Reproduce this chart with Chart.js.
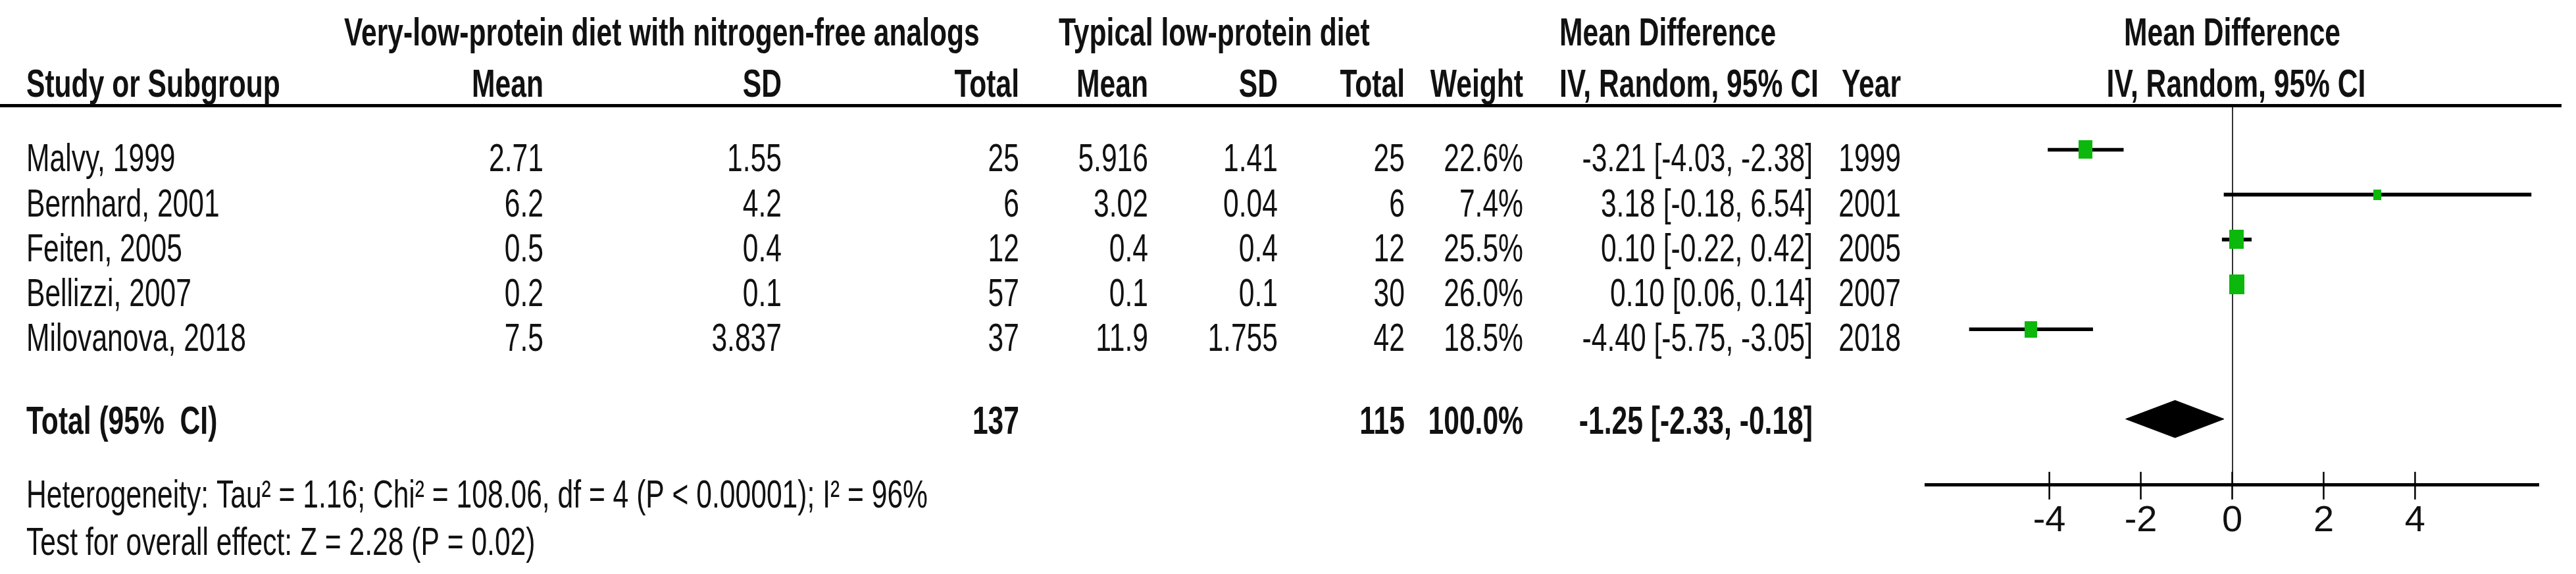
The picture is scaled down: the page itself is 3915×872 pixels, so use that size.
<!DOCTYPE html>
<html>
<head>
<meta charset="utf-8">
<title>Forest plot</title>
<script src="https://cdn.jsdelivr.net/npm/chart.js@4.4.1/dist/chart.umd.min.js"></script>
<style>
  html, body { margin: 0; padding: 0; background: #fff; }
  #forest { display: block; }
</style>
</head>
<body>
<canvas id="forest" width="3915" height="872"></canvas>
<script>
// Study data
const studies = ['Malvy, 1999', 'Bernhard, 2001', 'Feiten, 2005', 'Bellizzi, 2007', 'Milovanova, 2018'];
const expMean = [2.71, 6.2, 0.5, 0.2, 7.5];
const expSD = [1.55, 4.2, 0.4, 0.1, 3.837];
const expTotal = [25, 6, 12, 57, 37];
const ctlMean = [5.916, 3.02, 0.4, 0.1, 11.9];
const ctlSD = [1.41, 0.04, 0.4, 0.1, 1.755];
const ctlTotal = [25, 6, 12, 30, 42];
const weights = [22.6, 7.4, 25.5, 26.0, 18.5];
const meanDiff = [-3.21, 3.18, 0.10, 0.10, -4.40];
const ciLow = [-4.03, -0.18, -0.22, 0.06, -5.75];
const ciHigh = [-2.38, 6.54, 0.42, 0.14, -3.05];
const years = [1999, 2001, 2005, 2007, 2018];

// Pooled result
const totalExp = 137;
const totalCtl = 115;
const totalWeight = 100.0;
const totalMd = -1.25;
const totalLow = -2.33;
const totalHigh = -0.18;

const xTicks = [-4, -2, 0, 2, 4];
const heterogeneity = 'Heterogeneity: Tau\u00b2 = 1.16; Chi\u00b2 = 108.06, df = 4 (P < 0.00001); I\u00b2 = 96%';
const overallEffect = 'Test for overall effect: Z = 2.28 (P = 0.02)';

// Layout (pixels)
const TOTAL_ROW = studies.length + 2;
const DIAMOND_HALF = 0.415;   // in row units
const TEXT_SQUEEZE = 0.71;
const FONT = '"Liberation Sans", Arial, sans-serif';
const cols = {
  label: 40, expMean: 826, expSD: 1188, expTotal: 1549, ctlMean: 1745,
  ctlSD: 1942, ctlTotal: 2135, weight: 2315, ci: 2755, year: 2889
};

const fmtCI = (m, lo, hi) => m.toFixed(2) + ' [' + lo.toFixed(2) + ', ' + hi.toFixed(2) + ']';

// square sizes follow the study weight
const squareStyles = weights.map(w => {
  const h = Math.round(5.8 * Math.sqrt(w));
  const c = document.createElement('canvas');
  c.width = Math.round(h * 0.75);
  c.height = h;
  const g = c.getContext('2d');
  g.fillStyle = '#0cb80c';
  g.fillRect(0, 0, c.width, c.height);
  return c;
});

function drawText(ctx, text, x, y, align, bold) {
  ctx.save();
  ctx.translate(x, y);
  ctx.scale(TEXT_SQUEEZE, 1);
  ctx.font = (bold ? 'bold ' : '') + '60px ' + FONT;
  ctx.fillStyle = '#111';
  ctx.textAlign = align;
  ctx.textBaseline = 'alphabetic';
  ctx.fillText(text, 0, 0);
  ctx.restore();
}

const tablePlugin = {
  id: 'forestTable',
  afterDraw(chart) {
    const ctx = chart.ctx;
    const xs = chart.scales.x;
    const ys = chart.scales.y;
    const zeroX = xs.getPixelForValue(0);

    // header rule
    ctx.fillStyle = '#000';
    ctx.fillRect(0, 158, 3893, 5);

    // header line 1
    drawText(ctx, 'Very-low-protein diet with nitrogen-free analogs', 523, 69, 'left', true);
    drawText(ctx, 'Typical low-protein diet', 1609, 69, 'left', true);
    drawText(ctx, 'Mean Difference', 2370, 69, 'left', true);
    drawText(ctx, 'Mean Difference', zeroX, 69, 'center', true);

    // header line 2
    drawText(ctx, 'Study or Subgroup', cols.label, 147, 'left', true);
    drawText(ctx, 'Mean', cols.expMean, 147, 'right', true);
    drawText(ctx, 'SD', cols.expSD, 147, 'right', true);
    drawText(ctx, 'Total', cols.expTotal, 147, 'right', true);
    drawText(ctx, 'Mean', cols.ctlMean, 147, 'right', true);
    drawText(ctx, 'SD', cols.ctlSD, 147, 'right', true);
    drawText(ctx, 'Total', cols.ctlTotal, 147, 'right', true);
    drawText(ctx, 'Weight', cols.weight, 147, 'right', true);
    drawText(ctx, 'IV, Random, 95% CI', 2370, 147, 'left', true);
    drawText(ctx, 'Year', cols.year, 147, 'right', true);
    drawText(ctx, 'IV, Random, 95% CI', zeroX + 6, 147, 'center', true);

    // study rows
    studies.forEach((name, i) => {
      const y = ys.getPixelForValue(i + 1) + 33;
      drawText(ctx, name, cols.label, y, 'left', false);
      drawText(ctx, String(expMean[i]), cols.expMean, y, 'right', false);
      drawText(ctx, String(expSD[i]), cols.expSD, y, 'right', false);
      drawText(ctx, String(expTotal[i]), cols.expTotal, y, 'right', false);
      drawText(ctx, String(ctlMean[i]), cols.ctlMean, y, 'right', false);
      drawText(ctx, String(ctlSD[i]), cols.ctlSD, y, 'right', false);
      drawText(ctx, String(ctlTotal[i]), cols.ctlTotal, y, 'right', false);
      drawText(ctx, weights[i].toFixed(1) + '%', cols.weight, y, 'right', false);
      drawText(ctx, fmtCI(meanDiff[i], ciLow[i], ciHigh[i]), cols.ci, y, 'right', false);
      drawText(ctx, String(years[i]), cols.year, y, 'right', false);
    });

    // total row
    const ty = ys.getPixelForValue(TOTAL_ROW) + 22;
    drawText(ctx, 'Total (95%  CI)', cols.label, ty, 'left', true);
    drawText(ctx, String(totalExp), cols.expTotal, ty, 'right', true);
    drawText(ctx, String(totalCtl), cols.ctlTotal, ty, 'right', true);
    drawText(ctx, totalWeight.toFixed(1) + '%', cols.weight, ty, 'right', true);
    drawText(ctx, fmtCI(totalMd, totalLow, totalHigh), cols.ci, ty, 'right', true);

    // footnotes
    drawText(ctx, heterogeneity, cols.label, 771, 'left', false);
    drawText(ctx, overallEffect, cols.label, 843, 'left', false);

    // tick marks crossing the axis
    ctx.save();
    ctx.strokeStyle = '#000';
    ctx.lineWidth = 2.5;
    xTicks.forEach(v => {
      const px = xs.getPixelForValue(v);
      ctx.beginPath();
      ctx.moveTo(px, xs.top - 20);
      ctx.lineTo(px, xs.top + 22);
      ctx.stroke();
    });
    ctx.restore();
  }
};

new Chart(document.getElementById('forest'), {
  type: 'scatter',
  data: {
    datasets: [
      {
        // study squares
        type: 'scatter',
        order: 0,
        data: meanDiff.map((m, i) => ({ x: m, y: i + 1 })),
        pointStyle: squareStyles,
        pointRadius: 10,
        pointHoverRadius: 10
      },
      {
        // pooled diamond
        type: 'line',
        order: 1,
        data: [
          { x: totalLow, y: TOTAL_ROW },
          { x: totalMd, y: TOTAL_ROW - DIAMOND_HALF },
          { x: totalHigh, y: TOTAL_ROW },
          { x: totalMd, y: TOTAL_ROW + DIAMOND_HALF },
          { x: totalLow, y: TOTAL_ROW }
        ],
        borderColor: '#000',
        backgroundColor: '#000',
        borderWidth: 1,
        tension: 0,
        pointRadius: 0,
        fill: 'shape'
      },
      {
        // confidence intervals
        type: 'bar',
        order: 2,
        indexAxis: 'y',
        data: studies.map((s, i) => ({ y: i + 1, x: [ciLow[i], ciHigh[i]] })),
        backgroundColor: '#000',
        barThickness: 5,
        borderSkipped: false
      }
    ]
  },
  options: {
    responsive: false,
    animation: false,
    layout: { padding: { left: 2927, right: 57, top: 160, bottom: 26 } },
    plugins: {
      legend: { display: false },
      tooltip: { enabled: false }
    },
    scales: {
      x: {
        type: 'linear',
        min: -6.7,
        max: 6.7,
        afterBuildTicks: axis => { axis.ticks = xTicks.map(v => ({ value: v })); },
        grid: {
          drawTicks: false,
          lineWidth: 2,
          color: c => (c.tick && c.tick.value === 0 ? '#333' : 'rgba(0,0,0,0)')
        },
        border: { display: true, width: 5, color: '#000' },
        ticks: {
          padding: 21,
          color: '#111',
          font: { family: '"Liberation Sans Narrow", ' + FONT, size: 56 }
        }
      },
      y: {
        type: 'linear',
        reverse: true,
        min: 0.48,
        max: 8.0,
        display: false
      }
    }
  },
  plugins: [tablePlugin]
});
</script>
</body>
</html>
